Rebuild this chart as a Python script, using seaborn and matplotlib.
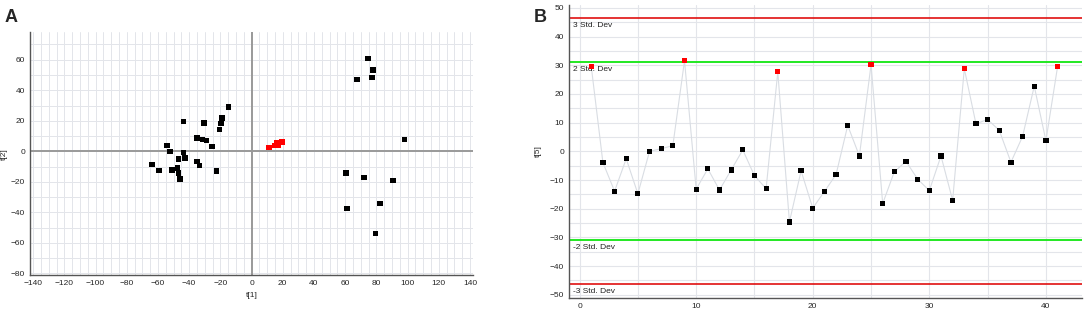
import numpy as np
import pandas as pd
import matplotlib.pyplot as plt
import seaborn as sns
from matplotlib.ticker import MultipleLocator

# -------------------------------------------------------
# Data: panel A (score plot t[1] vs t[2])
# -------------------------------------------------------

black_t1 = [-63.9, -59.3, -54.1, -52.4, -50.9, -43.5, -43.5, -42.6, -46.8, -47.4,
            -46.8, -45.9, -34.8, -34.8, -33.3, -30.5, -31.4, -28.8, -25.3, -22.5,
            -20.6, -19.7, -18.8, -14.9,
            74.8, 77.8, 77.1, 67.7, 98.1, 60.5, 72.2, 90.8, 82.5, 61.3, 79.5]
black_t2 = [-8.6, -12.6, 3.8, -0.2, -12.1, 19.6, -0.9, -4.4, -4.9, -10.8,
            -14.3, -18.1, 8.6, -6.8, -9.3, 18.5, 7.7, 7.1, 3.3, -13.0,
            14.3, 18.1, 21.8, 28.9,
            60.7, 53.4, 48.5, 47.0, 7.7, -14.1, -17.0, -19.2, -34.2, -37.5, -53.8]

red_t1 = [11.3, 15.0, 16.0, 17.1, 19.4, 17.9]
red_t2 = [2.6, 3.7, 5.5, 4.2, 6.2, 5.7]

# -------------------------------------------------------
# Data: panel B (control chart of t[5])
# -------------------------------------------------------

obs_index = list(range(1, 42))
t5_values = [29.6, -3.9, -13.9, -2.6, -14.8, 0.0, 0.9, 2.0, 31.6, -13.2,
             -6.1, -13.5, -6.5, 0.5, -8.5, -13.0, 27.7, -24.6, -6.8, -19.8,
             -14.0, -8.1, 9.0, -1.6, 30.2, -18.2, -7.1, -3.5, -9.7, -13.7,
             -1.6, -17.1, 28.8, 9.6, 11.1, 7.3, -3.8, 5.2, 22.7, 3.7, 29.5]
red_obs = [1, 9, 17, 25, 33, 41]

std_levels = [46.5, 31.0, -30.9, -46.4]
std_labels = ["3 Std. Dev", "2 Std. Dev", "-2 Std. Dev", "-3 Std. Dev"]
std_colors = ["#e01010", "#22e822", "#22e822", "#e01010"]

df_a = pd.DataFrame({
    "t1": black_t1 + red_t1,
    "t2": black_t2 + red_t2,
    "grp": ["black"] * len(black_t1) + ["red"] * len(red_t1),
})

df_b = pd.DataFrame({"obs": obs_index, "t5": t5_values})
df_b["grp"] = np.where(df_b["obs"].isin(red_obs), "red", "black")

sns.set_style("white")
plt.rcParams["font.family"] = ["Liberation Sans", "DejaVu Sans"]

fig = plt.figure(figsize=(10.84, 3.12), dpi=100)

palette = {"black": "#000000", "red": "#ff0000"}
grid_col = "#e3e5ea"

# -------------------------------------------------------
# Panel A
# -------------------------------------------------------

ax1 = fig.add_axes([0.0277, 0.1186, 0.4087, 0.778])

ax1.set_xlim(-142, 142)
ax1.set_ylim(-81, 78)
ax1.xaxis.set_major_locator(MultipleLocator(20))
ax1.xaxis.set_minor_locator(MultipleLocator(10))
ax1.yaxis.set_major_locator(MultipleLocator(20))
ax1.yaxis.set_minor_locator(MultipleLocator(10))

for v in np.arange(-140, 141, 5):
    ax1.axvline(v, color=grid_col, lw=0.7, zorder=0)
for v in np.arange(-80, 80, 10):
    ax1.axhline(v, color=grid_col, lw=0.7, zorder=0)

ax1.axhline(0, color="#999999", lw=1.4, zorder=1)
ax1.axvline(0, color="#999999", lw=1.4, zorder=1)

sns.scatterplot(
    data=df_a, x="t1", y="t2", hue="grp", palette=palette,
    marker="s", s=16, linewidth=0, legend=False, ax=ax1, zorder=3
)

ax1.set_xlabel("t[1]", fontsize=6, labelpad=4)
ax1.set_ylabel("t[2]", fontsize=6, labelpad=2)

for side in ["top", "right"]:
    ax1.spines[side].set_visible(False)
for side in ["left", "bottom"]:
    ax1.spines[side].set_color("#555555")
    ax1.spines[side].set_linewidth(1.0)

ax1.tick_params(axis="both", which="major", labelsize=6, length=3,
                direction="inout", width=0.7, color="#555555", pad=2)
ax1.tick_params(axis="both", which="minor", length=2, direction="inout",
                width=0.6, color="#555555")

fig.text(0.004, 0.93, "A", fontsize=13, fontweight="bold")

# -------------------------------------------------------
# Panel B
# -------------------------------------------------------

ax2 = fig.add_axes([0.525, 0.046, 0.4732, 0.938])

ax2.set_xlim(-0.9, 43.1)
ax2.set_ylim(-51, 51)
ax2.xaxis.set_major_locator(MultipleLocator(10))
ax2.xaxis.set_minor_locator(MultipleLocator(5))
ax2.yaxis.set_major_locator(MultipleLocator(10))
ax2.yaxis.set_minor_locator(MultipleLocator(5))

for v in np.arange(0, 44, 5):
    ax2.axvline(v, color=grid_col, lw=0.8, zorder=0)
for v in np.arange(-50, 51, 5):
    ax2.axhline(v, color=grid_col, lw=0.8, zorder=0)

sns.lineplot(data=df_b, x="obs", y="t5", color="#d9dde3", lw=0.8,
             ax=ax2, zorder=1)

for lvl, lab, col in zip(std_levels, std_labels, std_colors):
    ax2.axhline(lvl, color=col, lw=1.4 if col == "#22e822" else 1.2, zorder=2)
    ax2.text(-0.6, lvl - 1.4, lab, fontsize=6, va="top", ha="left",
             color="#222222", zorder=2)

sns.scatterplot(
    data=df_b, x="obs", y="t5", hue="grp", palette=palette,
    marker="s", s=14, linewidth=0, legend=False, ax=ax2, zorder=3
)

ax2.set_xlabel("")
ax2.set_ylabel("t[5]", fontsize=6, labelpad=6)

for side in ["top", "right"]:
    ax2.spines[side].set_visible(False)
for side in ["left", "bottom"]:
    ax2.spines[side].set_color("#555555")
    ax2.spines[side].set_linewidth(1.0)

ax2.tick_params(axis="both", which="major", labelsize=6, length=3,
                direction="inout", width=0.7, color="#555555", pad=2)
ax2.tick_params(axis="both", which="minor", length=2, direction="inout",
                width=0.6, color="#555555")

fig.text(0.492, 0.93, "B", fontsize=13, fontweight="bold")

plt.savefig("out.png", dpi=100)
plt.close()
